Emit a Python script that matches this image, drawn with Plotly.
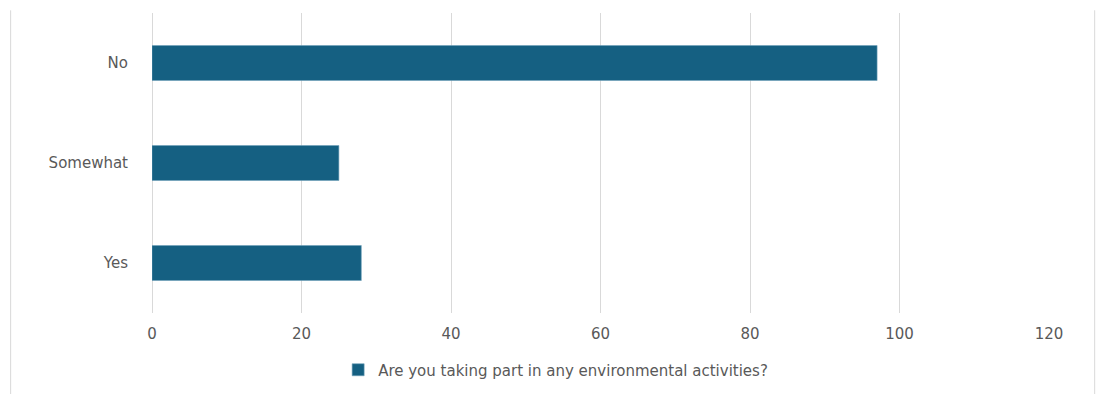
import plotly.graph_objects as go

categories = ["Yes", "Somewhat", "No"]
values = [28, 25, 97]
series_name = "Are you taking part in any environmental activities?"
x_ticks = [0, 20, 40, 60, 80, 100, 120]

fig = go.Figure()
fig.add_trace(go.Bar(
    y=categories, x=values, orientation="h", name=series_name,
    marker=dict(color="#156082", line=dict(width=0.6, color="#6f9fb8")),
    width=0.35, showlegend=True,
))

fig.update_layout(
    width=1096, height=394,
    margin=dict(l=151.5, r=46.7, t=12.7, b=81, autoexpand=False),
    paper_bgcolor="white", plot_bgcolor="white",
    font=dict(family="DejaVu Sans, Verdana, sans-serif", size=15, color="#595959"),
    showlegend=True,
    legend=dict(orientation="h", x=0.45, xanchor="center", y=-0.19, yanchor="middle",
                font=dict(size=15, color="#595959"), itemwidth=30),
    xaxis=dict(range=[0, 120], tickvals=x_ticks, showgrid=True, gridcolor="#d9d9d9",
               gridwidth=1, zeroline=True, zerolinecolor="#d9d9d9", zerolinewidth=1,
               showline=False, ticks="", ticklabelstandoff=10, fixedrange=True),
    yaxis=dict(categoryorder="array", categoryarray=categories, showgrid=False,
               zeroline=False, showline=False, ticks="", ticklabelstandoff=23),
    shapes=[
        dict(type="line", xref="paper", yref="paper", x0=-0.1576, x1=-0.1576, y0=1.009, y1=-0.27,
             line=dict(color="#d9d9d9", width=1)),
        dict(type="line", xref="paper", yref="paper", x0=1.0509, x1=1.0509, y0=1.009, y1=-0.27,
             line=dict(color="#d9d9d9", width=1)),
    ],
)

fig.write_html("out.html")
